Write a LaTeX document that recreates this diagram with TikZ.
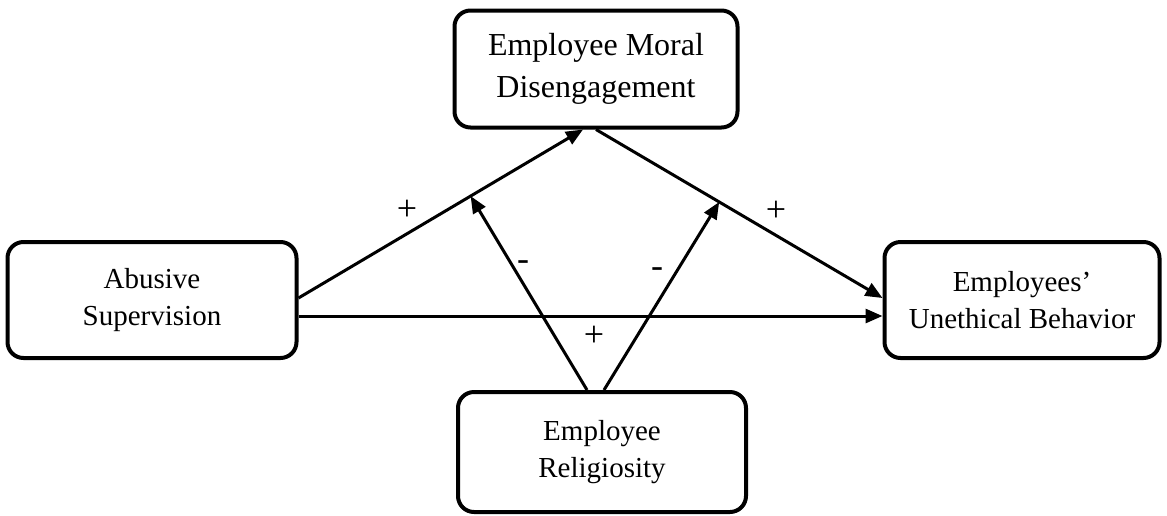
\documentclass[tikz,border=0pt]{standalone}
\usepackage{fontspec}
\setmainfont{Liberation Serif}
\usetikzlibrary{arrows.meta}
\begin{document}
\begin{tikzpicture}[x=1pt,y=-1pt,
  box/.style={draw,line width=4pt,rounded corners=16pt,align=center,
    font=\fontsize{29}{37}\selectfont,inner sep=0pt},
  conn/.style={line width=3pt,-{Triangle[length=17pt,width=14pt]}},
  lab/.style={font=\fontsize{36}{40}\selectfont,inner sep=0pt}]
\useasboundingbox (0,0) rectangle (1167,515);
\node[box,minimum width=289pt,minimum height=116pt] (abs) at (152,300) {Abusive\\Supervision};
\node[box,minimum width=283pt,minimum height=117pt,font=\fontsize{32}{42}\selectfont] (mor) at (596,69) {Employee Moral\\Disengagement};
\node[box,minimum width=275pt,minimum height=116pt,font=\fontsize{29}{37}\selectfont] (une) at (1022,300) {Employees’\\Unethical Behavior};
\node[box,minimum width=288pt,minimum height=120pt] (rel) at (602,452) {Employee\\Religiosity};
\draw[conn] ([yshift=2pt]abs.east) -- coordinate[pos=0.605] (m1) ([xshift=-13pt]mor.south);
\draw[conn] (mor.south) -- coordinate[pos=0.43] (m2) ([yshift=2pt]une.west);
\draw[conn] ([yshift=-16pt]abs.east) -- ([yshift=-16pt]une.west);
\draw[conn] ([xshift=-15pt]rel.north) -- (m1);
\draw[conn] ([xshift=2pt]rel.north) -- (m2);
\node[lab] (p1) at (407,210) {+};
\node[lab] (p2) at (776,211) {+};
\node[lab] (p3) at (594,336) {+};
\node[lab] (n1) at (523,266) {-};
\node[lab] (n2) at (657,273) {-};
\end{tikzpicture}
\end{document}
